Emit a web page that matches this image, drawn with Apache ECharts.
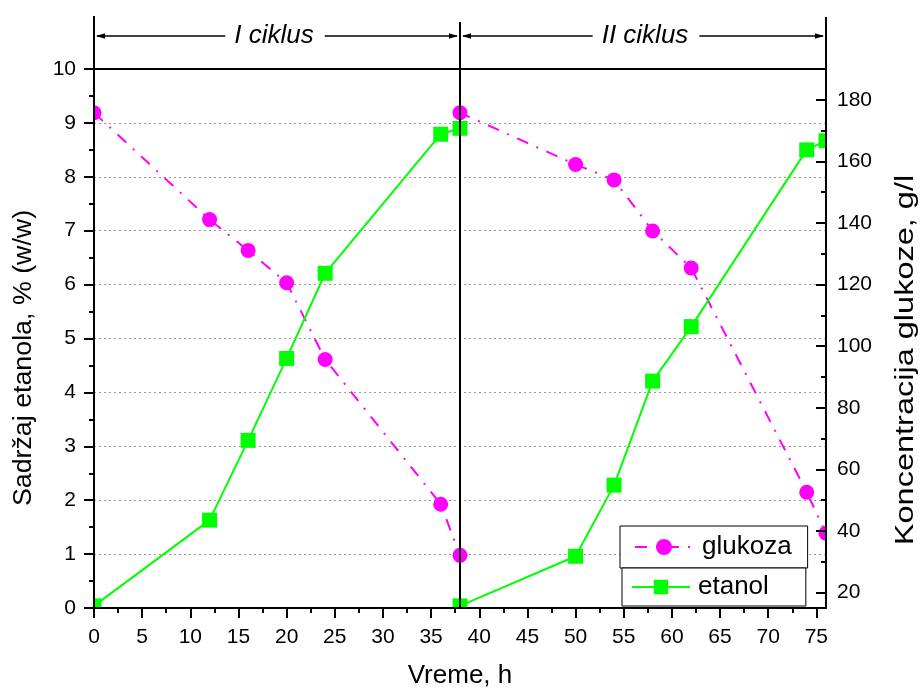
<!DOCTYPE html>
<html><head><meta charset="utf-8">
<script src="https://cdn.jsdelivr.net/npm/echarts@6/dist/echarts.min.js"></script>
<style>html,body{margin:0;padding:0;background:#fff}#c{width:922px;height:689px}</style>
</head><body><div id="c"></div>
<script>
// ---- data ----
const timeGlukoza = [0, 12, 16, 20, 24, 36, 38, 38, 50, 54, 58, 62, 74, 76];
const glukoza = [175.8, 141.1, 131.1, 120.6, 95.7, 48.7, 32.1, 175.8, 159.0, 154.0, 137.4, 125.4, 52.6, 39.3];
const timeEtanol = [0, 12, 16, 20, 24, 36, 38, 38, 50, 54, 58, 62, 74, 76];
const etanol = [0.04, 1.63, 3.11, 4.63, 6.21, 8.79, 8.90, 0.04, 0.96, 2.28, 4.21, 5.22, 8.50, 8.67];
const xTicks = [0, 5, 10, 15, 20, 25, 30, 35, 40, 45, 50, 55, 60, 65, 70, 75];
const xMinorTicks = [2.5, 7.5, 12.5, 17.5, 22.5, 27.5, 32.5, 37.5, 42.5, 47.5, 52.5, 57.5, 62.5, 67.5, 72.5];
const rightTicks = [20, 40, 60, 80, 100, 120, 140, 160, 180];
const rightMinorTicks = [30, 50, 70, 90, 110, 130, 150, 170];
const cycleBounds = [0, 38, 76];
const cycleLabels = ['I ciklus', 'II ciklus'];
const seriesNames = ['glukoza', 'etanol'];
const xTitle = 'Vreme, h';
const leftTitle = 'Sadržaj etanola, % (w/w)';
const rightTitle = 'Koncentracija glukoze, g/l';

// ---- chart ----
const FONT = '"Liberation Sans", Arial, Helvetica, sans-serif';
const chart = echarts.init(document.getElementById('c'), null, {renderer: 'canvas'});
const blk = {color: '#000', width: 2};
const lbl = {color: '#000', fontSize: 21, fontFamily: FONT};

const option = {
  animation: false,
  backgroundColor: '#fff',
  grid: {left: 94, right: 96, top: 69, bottom: 81, containLabel: false},
  legend: [
    {data: [seriesNames[0]], left: 620, top: 526, orient: 'horizontal', selectedMode: false,
     padding: [8, 16, 8, 14], itemWidth: 58, itemHeight: 20, backgroundColor: '#fff',
     borderColor: '#000', borderWidth: 1, borderRadius: 0, z: 15,
     textStyle: {color: '#000', fontSize: 26, fontFamily: FONT, padding: [0, 0, 0, 4]}},
    {data: [seriesNames[1]], left: 622, top: 568, orient: 'horizontal', selectedMode: false,
     padding: [6, 37, 6, 9], itemWidth: 58, itemHeight: 18, backgroundColor: '#fff',
     borderColor: '#000', borderWidth: 1, borderRadius: 0, z: 15,
     textStyle: {color: '#000', fontSize: 26, fontFamily: FONT, padding: [0, 0, 0, 3]}}
  ],
  xAxis: [
    {type: 'value', position: 'bottom', min: 0, max: 76, z: 10,
     axisLine: {show: true, onZero: false, lineStyle: blk},
     axisTick: {show: true, inside: false, length: 10, lineStyle: blk, customValues: xTicks},
     axisLabel: Object.assign({show: true, margin: 19, customValues: xTicks}, lbl),
     splitLine: {show: false}},
    {type: 'value', position: 'bottom', min: 0, max: 76, z: 10,
     axisLine: {show: false, onZero: false},
     axisTick: {show: true, inside: false, length: 5, lineStyle: blk, customValues: xMinorTicks},
     axisLabel: {show: false}, splitLine: {show: false}},
    {type: 'value', position: 'top', min: 0, max: 76, z: 10,
     axisLine: {show: true, onZero: false, lineStyle: blk},
     axisTick: {show: false}, axisLabel: {show: false}, splitLine: {show: false}}
  ],
  yAxis: [
    {type: 'value', position: 'left', min: 0, max: 10, interval: 1, z: 10,
     axisLine: {show: true, onZero: false, lineStyle: blk},
     axisTick: {show: true, inside: false, length: 10, lineStyle: blk},
     minorTick: {show: true, splitNumber: 2, length: 5, lineStyle: blk},
     axisLabel: Object.assign({show: true, margin: 18}, lbl),
     splitLine: {show: false}, minorSplitLine: {show: false}},
    {type: 'value', position: 'right', min: 15, max: 190, z: 10,
     axisLine: {show: true, onZero: false, lineStyle: blk},
     axisTick: {show: true, inside: true, length: 10, lineStyle: blk, customValues: rightTicks},
     axisLabel: Object.assign({show: true, margin: 11, customValues: rightTicks}, lbl),
     splitLine: {show: false}},
    {type: 'value', position: 'right', min: 15, max: 190, z: 10,
     axisLine: {show: false, onZero: false},
     axisTick: {show: true, inside: true, length: 5, lineStyle: blk, customValues: rightMinorTicks},
     axisLabel: {show: false}, splitLine: {show: false}},
    {type: 'value', position: 'left', min: 0, max: 10, interval: 1, z: 0,
     axisLine: {show: false, onZero: false}, axisTick: {show: false}, axisLabel: {show: false},
     splitLine: {show: true, lineStyle: {color: '#999', width: 1, type: [2, 3]}}}
  ],
  series: [
    {name: seriesNames[0], type: 'line', xAxisIndex: 0, yAxisIndex: 1, z: 2, clip: false,
     data: timeGlukoza.map((t, i) => [t, glukoza[i]]),
     symbol: 'circle', symbolSize: 15,
     lineStyle: {color: '#ff00ff', width: 2, type: [12, 9, 2, 9]},
     itemStyle: {color: '#ff00ff'}},
    {name: seriesNames[1], type: 'line', xAxisIndex: 0, yAxisIndex: 0, z: 3, clip: false,
     data: timeEtanol.map((t, i) => [t, etanol[i]]),
     symbol: 'rect', symbolSize: 15,
     lineStyle: {color: '#00ff00', width: 2, type: 'solid'},
     itemStyle: {color: '#00ff00'}}
  ]
};
chart.setOption(option);

// ---- decorations positioned from the axes ----
const px = v => chart.convertToPixel({xAxisIndex: 0}, v);
const py = v => chart.convertToPixel({yAxisIndex: 0}, v);
const gl = px(0), gr = px(76), gt = py(10), gb = py(0);
const W = 922, H = 689;
const g = [];
// masks outside plot (clip markers)
[[0, 0, gl, H], [gr, 0, W - gr, H], [0, 0, W, gt], [0, gb, W, H - gb]].forEach(r => {
  g.push({type: 'rect', silent: true, z: 5, shape: {x: r[0], y: r[1], width: r[2], height: r[3]}, style: {fill: '#fff'}});
});
const cv = document.createElement('canvas').getContext('2d');
const annFont = 'italic 26px ' + FONT;
cv.font = annFont;
const ay = 36;
const tops = [16, 22, 17];
cycleBounds.forEach((b, i) => {
  const x = px(b);
  const bottom = (i === 1) ? gb : gt;
  g.push({type: 'line', z: 20, silent: true, shape: {x1: x, y1: tops[i], x2: x, y2: bottom}, style: {stroke: '#000', lineWidth: 2}});
});
for (let i = 0; i < cycleLabels.length; i++) {
  const a = px(cycleBounds[i]), b = px(cycleBounds[i + 1]);
  const cx = (a + b) / 2 - (i === 0 ? 3 : -2);
  const w = cv.measureText(cycleLabels[i]).width;
  g.push({type: 'text', z: 20, silent: true, x: cx, y: ay,
    style: {text: cycleLabels[i], x: 0, y: 0, font: annFont, fill: '#000', align: 'center', verticalAlign: 'middle', textAlign: 'center', textVerticalAlign: 'middle'}});
  g.push({type: 'line', z: 20, silent: true, shape: {x1: a + 3, y1: ay, x2: cx - w / 2 - 9, y2: ay}, style: {stroke: '#000', lineWidth: 1.5}});
  g.push({type: 'line', z: 20, silent: true, shape: {x1: cx + w / 2 + 11, y1: ay, x2: b - 3, y2: ay}, style: {stroke: '#000', lineWidth: 1.5}});
  g.push({type: 'polygon', z: 20, silent: true, shape: {points: [[a + 2, ay], [a + 11, ay - 2.8], [a + 11, ay + 2.8]]}, style: {fill: '#000'}});
  g.push({type: 'polygon', z: 20, silent: true, shape: {points: [[b - 2, ay], [b - 11, ay - 2.8], [b - 11, ay + 2.8]]}, style: {fill: '#000'}});
}
// axis titles
const titleFont = '26px ' + FONT;
g.push({type: 'text', z: 20, silent: true, x: (gl + gr) / 2, y: 676,
  style: {text: xTitle, x: 0, y: 0, font: titleFont, fill: '#000', align: 'center', verticalAlign: 'middle', textAlign: 'center', textVerticalAlign: 'middle'}});
g.push({type: 'text', z: 20, silent: true, x: 24, y: 358, rotation: Math.PI / 2, scaleX: 1.03, scaleY: 1,
  style: {text: leftTitle, x: 0, y: 0, font: titleFont, fill: '#000', align: 'center', verticalAlign: 'middle', textAlign: 'center', textVerticalAlign: 'middle'}});
g.push({type: 'text', z: 20, silent: true, x: 906, y: 360, rotation: Math.PI / 2, scaleX: 1.25, scaleY: 1,
  style: {text: rightTitle, x: 0, y: 0, font: titleFont, fill: '#000', align: 'center', verticalAlign: 'middle', textAlign: 'center', textVerticalAlign: 'middle'}});

chart.setOption({graphic: {elements: g}});
</script></body></html>
